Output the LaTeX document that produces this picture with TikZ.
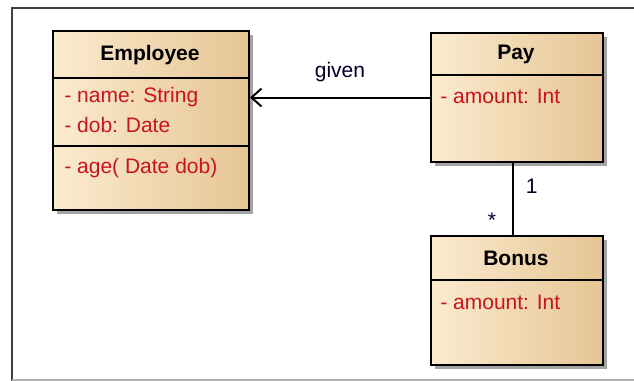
\documentclass[tikz,border=0pt]{standalone}
\usepackage{fontspec}
\setmainfont{Liberation Sans}
\usetikzlibrary{arrows.meta,shadows}

\definecolor{classlight}{HTML}{FBEBCF}
\definecolor{classmid}{HTML}{FFF3DE}
\definecolor{classdark}{HTML}{E6C594}
\definecolor{attrred}{HTML}{C8141E}

\begin{document}
\begin{tikzpicture}[x=0.5pt,y=-0.5pt,
            font=\fontsize{10.5}{12.6}\selectfont,
            umlclass/.style={draw=black,line width=1pt,anchor=north west,inner sep=0pt,
                left color=classlight,middle color=classmid,right color=classdark,
                drop shadow={shadow xshift=1.8pt,shadow yshift=-1.8pt,fill=black!45,opacity=0.8}},
            classname/.style={font=\fontsize{10.5}{12.6}\selectfont\bfseries},
            member/.style={text=attrred,anchor=west,inner sep=0pt},
            assoc/.style={line width=1pt},
            mult/.style={text=black!85!blue,inner sep=1pt}]
            \useasboundingbox (0,0) rectangle (634,381);
            % frame of the diagram
            \draw[line width=0.8pt,black!75] (634,8) -- (12,8) -- (12,381);
            \draw[line width=0.8pt,black!30] (12,380) -- (634,380);

            % classes
            \node[umlclass,minimum width=98pt,minimum height=89.5pt](Employee)at(52, 30){};
            \node[umlclass,minimum width=86pt,minimum height=64.5pt](Pay)at(430, 32){};
            \node[umlclass,minimum width=86pt,minimum height=64.5pt](Bonus)at(430, 235){};
            \draw[line width=0.8pt] (52,78) -- (248,78);
            \draw[line width=0.8pt] (52,146) -- (248,146);
            \draw[line width=0.8pt] (430,75) -- (602,75);
            \draw[line width=0.8pt] (430,280) -- (602,280);

            \node[classname](EmployeeName)at(150, 55){Employee};
            \node[member](EmpAttrName)at(64, 97){- name: String};
            \node[member](EmpAttrDob)at(64, 125){- dob: Date};
            \node[member](EmpOpAge)at(64, 168){- age( Date dob)};

            \node[classname](PayName)at(516, 54){Pay};
            \node[member](PayAttrAmount)at(440, 96){- amount: Int};

            \node[classname](BonusName)at(516, 258){Bonus};
            \node[member](BonusAttrAmount)at(440, 302){- amount: Int};

            % associations
            \draw[assoc,-{Straight Barb[length=5pt,width=9pt,line width=1pt]}] (Pay.west) -- (Pay.west -| Employee.east)
                node[midway,above=4pt,text=black!85!blue]{given};
            \draw[assoc] ([xshift=-2pt]Pay.south) -- ([xshift=-2pt]Bonus.north)
                node[mult,pos=0.32,right=5pt]{1}
                node[mult,pos=0.8,left=7pt]{*};
        \end{tikzpicture}
\end{document}
